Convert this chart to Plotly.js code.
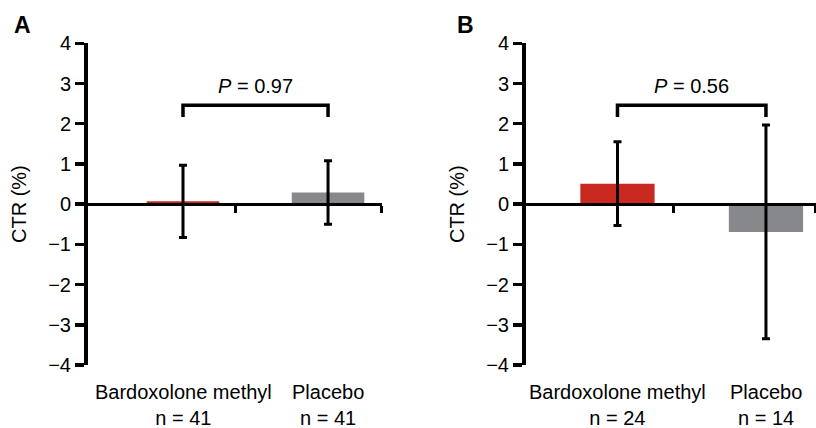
<!DOCTYPE html>
<html>
<head>
<meta charset="utf-8">
<script src="https://cdn.plot.ly/plotly-3.0.1.min.js"></script>
<style>
  html, body { margin: 0; padding: 0; background: #fff; }
  #chart { width: 816px; height: 428px; }
</style>
</head>
<body>
<div id="chart"></div>
<script>
// Groups and change in CTR (%) with error half-widths, per panel
const categories = ['Bardoxolone methyl', 'Placebo'];

const countsA = [41, 41];
const ctrA = [0.07, 0.29];
const errA = [0.9, 0.79];
const pValueA = '0.97';

const countsB = [24, 14];
const ctrB = [0.51, -0.69];
const errB = [1.04, 2.66];
const pValueB = '0.56';

const yTicks = [-4, -3, -2, -1, 0, 1, 2, 3, 4];

const barColors = ['#c9281f', '#87888c'];
const FONT = 'Liberation Sans, Arial, Helvetica, sans-serif';
const FS = 20;
const W = 816, H = 428;
const px = x => x / W;
const py = y => 1 - y / H;

const xIdx = categories.map((c, i) => i);
const yDomain = [py(365), py(43.3)];
const zeroPos = (yDomain[0] + yDomain[1]) / 2;

function barTrace(vals, errs, xa, ya) {
  return {
    type: 'bar',
    x: xIdx,
    y: vals,
    width: 0.5,
    xaxis: xa,
    yaxis: ya,
    marker: { color: barColors, line: { width: 0 } },
    error_y: { type: 'data', array: errs, visible: true, color: '#000', thickness: 3, width: 4 },
    hoverinfo: 'skip',
    showlegend: false
  };
}

function yAxis(xa, titleStandoff) {
  return {
    domain: yDomain,
    range: [-4, 4],
    anchor: xa,
    showline: true, linecolor: '#000', linewidth: 4,
    ticks: 'outside', ticklen: 9, tickwidth: 3.5, tickcolor: '#000',
    tickvals: yTicks,
    tickfont: { family: FONT, size: FS, color: '#000' },
    showgrid: false, zeroline: false,
    title: { text: 'CTR (%)', font: { family: FONT, size: FS, color: '#000' }, standoff: titleStandoff },
    fixedrange: true
  };
}

function xAxis(domain, range, tickvals) {
  return {
    domain: domain,
    range: range,
    anchor: 'free',
    position: zeroPos,
    showline: true, linecolor: '#000', linewidth: 3,
    ticks: 'outside', ticklen: 7, tickwidth: 3, tickcolor: '#000',
    tickvals: tickvals,
    showticklabels: false,
    showgrid: false, zeroline: false,
    fixedrange: true
  };
}

function groupLabels(counts, xref) {
  return categories.map((c, i) => ({
    xref: xref, yref: 'paper',
    x: xIdx[i], y: py(404.5),
    xanchor: 'center', yanchor: 'middle',
    text: c + '<br>n = ' + counts[i],
    showarrow: false,
    font: { family: FONT, size: FS, color: '#000' }
  }));
}

// significance bracket between the two groups
function bracket(xref, yref) {
  const lo = 2.17, hi = 2.46;
  return {
    type: 'path', xref: xref, yref: yref,
    path: `M ${xIdx[0]},${lo} L ${xIdx[0]},${hi} L ${xIdx[1]},${hi} L ${xIdx[1]},${lo}`,
    line: { color: '#000', width: 3.5 }
  };
}

function pLabel(p, xref, yref) {
  return {
    xref: xref, yref: yref,
    x: (xIdx[0] + xIdx[1]) / 2, y: 2.95,
    xanchor: 'center', yanchor: 'middle',
    text: '<i>P</i> = ' + p,
    showarrow: false,
    font: { family: FONT, size: FS, color: '#000' }
  };
}

function panelLetter(t, x) {
  return {
    xref: 'paper', yref: 'paper', x: px(x), y: py(25.5),
    xanchor: 'center', yanchor: 'middle',
    text: '<b>' + t + '</b>', showarrow: false,
    font: { family: FONT, size: 23, color: '#000' }
  };
}

const data = [
  barTrace(ctrA, errA, 'x', 'y'),
  barTrace(ctrB, errB, 'x2', 'y2')
];

const layout = {
  width: W, height: H,
  margin: { l: 0, r: 0, t: 0, b: 0 },
  paper_bgcolor: '#fff', plot_bgcolor: '#fff',
  xaxis: xAxis([px(88), px(382)], [-0.655, 1.372], [0.359, 1.37]),
  yaxis: yAxis('x', 17),
  xaxis2: xAxis([px(526), 1], [-0.616, 1.337], [0.38, 1.336]),
  yaxis2: yAxis('x2', 17),
  shapes: [bracket('x', 'y'), bracket('x2', 'y2')],
  annotations: [
    ...groupLabels(countsA, 'x'),
    ...groupLabels(countsB, 'x2'),
    pLabel(pValueA, 'x', 'y'),
    pLabel(pValueB, 'x2', 'y2'),
    panelLetter('A', 22),
    panelLetter('B', 465)
  ]
};

Plotly.newPlot('chart', data, layout, { staticPlot: true, displayModeBar: false });
</script>
</body>
</html>
